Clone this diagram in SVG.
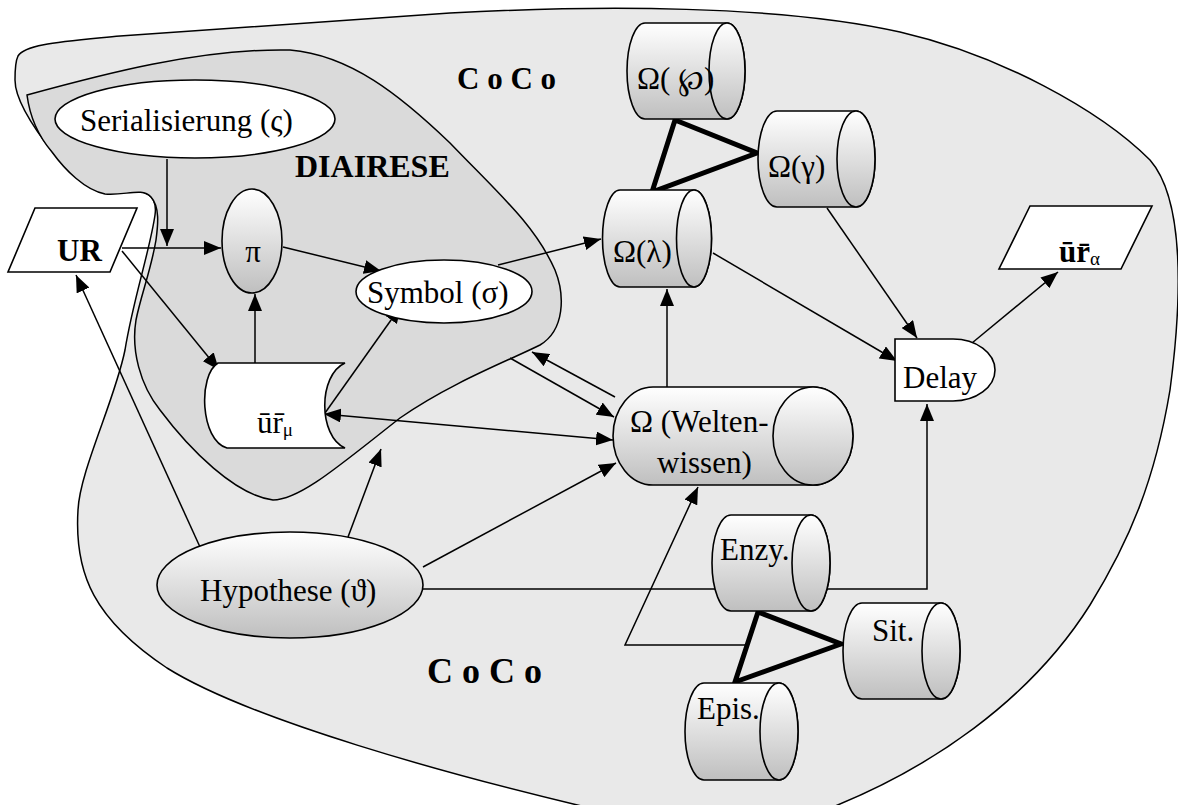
<svg xmlns="http://www.w3.org/2000/svg" width="1178" height="805" viewBox="0 0 1178 805">
<defs>
<linearGradient id="gr" x1="0" y1="0" x2="0" y2="1">
<stop offset="0" stop-color="#ffffff"/>
<stop offset="1" stop-color="#bfbfbf"/>
</linearGradient>
<marker id="ah" markerUnits="userSpaceOnUse" markerWidth="17" markerHeight="14" refX="17" refY="7" orient="auto-start-reverse" viewBox="0 0 17 14">
<path d="M0,0 L17,7 L0,14 Z" fill="#000"/>
</marker>
</defs>
<style>
.blob{stroke:#000;stroke-width:1.5}
.sh{stroke:#000;stroke-width:1.6}
.w{fill:#fff}
.g{fill:url(#gr)}
.c{fill:none;stroke:#000;stroke-width:1.5}
.a{marker-end:url(#ah)}
.tri{fill:none;stroke:#000;stroke-width:5;stroke-linejoin:miter}
text{font-family:"Liberation Serif","Times New Roman",serif;fill:#000}
.t{font-size:31px}
.b{font-weight:bold}
.sub{font-size:19px}
</style>
<rect width="1178" height="805" fill="#fff"/>
<g id="coco">
<path class="blob" fill="#e9e9e9" d="M18,56 C25,44 60,42 120,36 L450,13 C600,5 780,5 900,32 C1000,55 1100,110 1150,160 C1185,200 1182,300 1170,390 C1155,480 1130,540 1090,605 C1030,700 930,770 820,812 L700,840 L590,808 C450,775 250,720 167,668 C95,620 74,575 78,510 C80,470 115,400 125,350 C133,300 150,250 155,215 C158,195 145,190 127,190 C100,192 75,180 55,155 C35,130 15,100 15,80 C15,68 16,60 18,56 Z"/>
<text class="b" x="457" y="89" font-size="31">C o C o</text>
<text class="b" x="427" y="683" font-size="36">C o C o</text>
</g>
<g id="diairese">
<path class="blob" fill="#dadada" d="M27,95 C30,118 40,138 52,152 C65,170 85,190 105,194 C125,196 142,187 151,197 C160,207 158,225 156,240 C151,270 141,295 136,320 C131,350 140,385 160,410 C190,450 235,495 273,500 C300,500 340,465 400,418 C450,383 510,360 540,345 C565,330 565,295 555,270 C535,225 500,195 450,143 C400,95 350,55 290,50 C200,48 100,75 27,95 Z"/>
<text class="b" x="295" y="177" font-size="32">DIAIRESE</text>
</g>
<g id="connectors">
<path class="c a" d="M167,159 L167,246"/>
<path class="c a" d="M122,248 L221,248"/>
<path class="c a" d="M122,251 L219,370"/>
<path class="c a" d="M255,363 L255,294"/>
<path class="c a" d="M283,247 L381,271"/>
<path class="c a" d="M325,413 L401,306"/>
<path class="c a" d="M613,440 L324,414" style="marker-start:url(#ah)"/>
<path class="c a" d="M498,265 L601,239"/>
<path class="c a" d="M667,387 L667,289"/>
<path class="c a" d="M713,253 L897,361"/>
<path class="c a" d="M827,208 L917,338"/>
<path class="c a" d="M972,343 L1058,272"/>
<path class="c a" d="M200,547 L76,275"/>
<path class="c a" d="M348,537 L381,449"/>
<path class="c a" d="M423,567 L616,463"/>
<path class="c a" d="M423,589 L927,589 L927,404"/>
<path class="c a" d="M510,358 L614,417"/>
<path class="c a" d="M615,397 L532,352"/>
<path class="c a" d="M747,645 L625,645 L698,487"/>
<path class="tri" d="M675,120 L757,153 L652,192 Z"/>
<path class="tri" d="M758,612 L841,644 L735,682 Z"/>
</g>
<g id="serialisierung">
<ellipse class="sh w" cx="195" cy="119" rx="140" ry="39"/>
<text class="t" x="80" y="131">Serialisierung (ς)</text>
</g>
<g id="ur">
<path class="sh w" d="M35,208 L137,208 L110,272 L8,272 Z"/>
<text class="b" x="57" y="261" font-size="31">UR</text>
</g>
<g id="pi">
<ellipse class="sh g" cx="252" cy="241" rx="30" ry="52"/>
<text class="t" x="253" y="262" text-anchor="middle">π</text>
</g>
<g id="symbol">
<ellipse class="sh w" cx="444" cy="291.5" rx="88" ry="31.5"/>
<text class="t" x="367" y="303">Symbol (σ)</text>
</g>
<g id="urmu">
<path class="sh w" d="M218,363 H345 C318,375 318,436 345,448 H227 C200,440 198,375 218,363 Z"/>
<text class="t" x="257" y="433">ūr̄<tspan class="sub" dy="3">μ</tspan></text>
</g>
<g id="omega-p">
<path class="sh g" d="M645,23 H727 A18,48 0 0 1 727,119 H645 A18,48 0 0 1 645,23 Z"/>
<ellipse class="sh g" cx="727" cy="71" rx="18" ry="48"/>
<text class="t" x="637" y="89">Ω( ℘)</text>
</g>
<g id="omega-gamma">
<path class="sh g" d="M777,111 H856 A19,48 0 0 1 856,207 H777 A19,48 0 0 1 777,111 Z"/>
<ellipse class="sh g" cx="856" cy="159" rx="19" ry="48"/>
<text class="t" x="768" y="177">Ω(γ)</text>
</g>
<g id="omega-lambda">
<path class="sh g" d="M620,190 H694 A17.5,48.5 0 0 1 694,287 H620 A17.5,48.5 0 0 1 620,190 Z"/>
<ellipse class="sh g" cx="694" cy="238.5" rx="17.5" ry="48.5"/>
<text class="t" x="613" y="262">Ω(λ)</text>
</g>
<g id="omega-welten">
<path class="sh g" d="M653,387 H813 A40,49 0 0 1 813,485 H653 A40,49 0 0 1 653,387 Z"/>
<ellipse class="sh g" cx="813" cy="436" rx="40" ry="49"/>
<text class="t" x="630" y="432">Ω (Welten-</text>
<text class="t" x="657" y="473">wissen)</text>
</g>
<g id="delay">
<path class="sh w" d="M895,339 H953 A42,31 0 0 1 953,401 H895 Z"/>
<text class="t" x="903" y="388">Delay</text>
</g>
<g id="ur-alpha">
<path class="sh w" d="M1030,206 L1152,206 L1121,269 L999,269 Z"/>
<text x="1059" y="262"><tspan class="b" font-size="31">ūr̄</tspan><tspan class="sub" dy="3">α</tspan></text>
</g>
<g id="hypothese">
<ellipse class="sh g" cx="290" cy="585" rx="133" ry="53"/>
<text class="t" x="200" y="601">Hypothese (ϑ)</text>
</g>
<g id="enzy">
<path class="sh g" d="M731,515 H811 A19,48 0 0 1 811,611 H731 A19,48 0 0 1 731,515 Z"/>
<ellipse class="sh g" cx="811" cy="563" rx="19" ry="48"/>
<text class="t" x="720" y="560">Enzy.</text>
</g>
<g id="sit">
<path class="sh g" d="M862,603 H941 A19,48 0 0 1 941,699 H862 A19,48 0 0 1 862,603 Z"/>
<ellipse class="sh g" cx="941" cy="651" rx="19" ry="48"/>
<text class="t" x="872" y="641">Sit.</text>
</g>
<g id="epis">
<path class="sh g" d="M704,683 H779 A19,48.5 0 0 1 779,780 H704 A19,48.5 0 0 1 704,683 Z"/>
<ellipse class="sh g" cx="779" cy="731.5" rx="19" ry="48.5"/>
<text class="t" x="697" y="719">Epis.</text>
</g>
</svg>
